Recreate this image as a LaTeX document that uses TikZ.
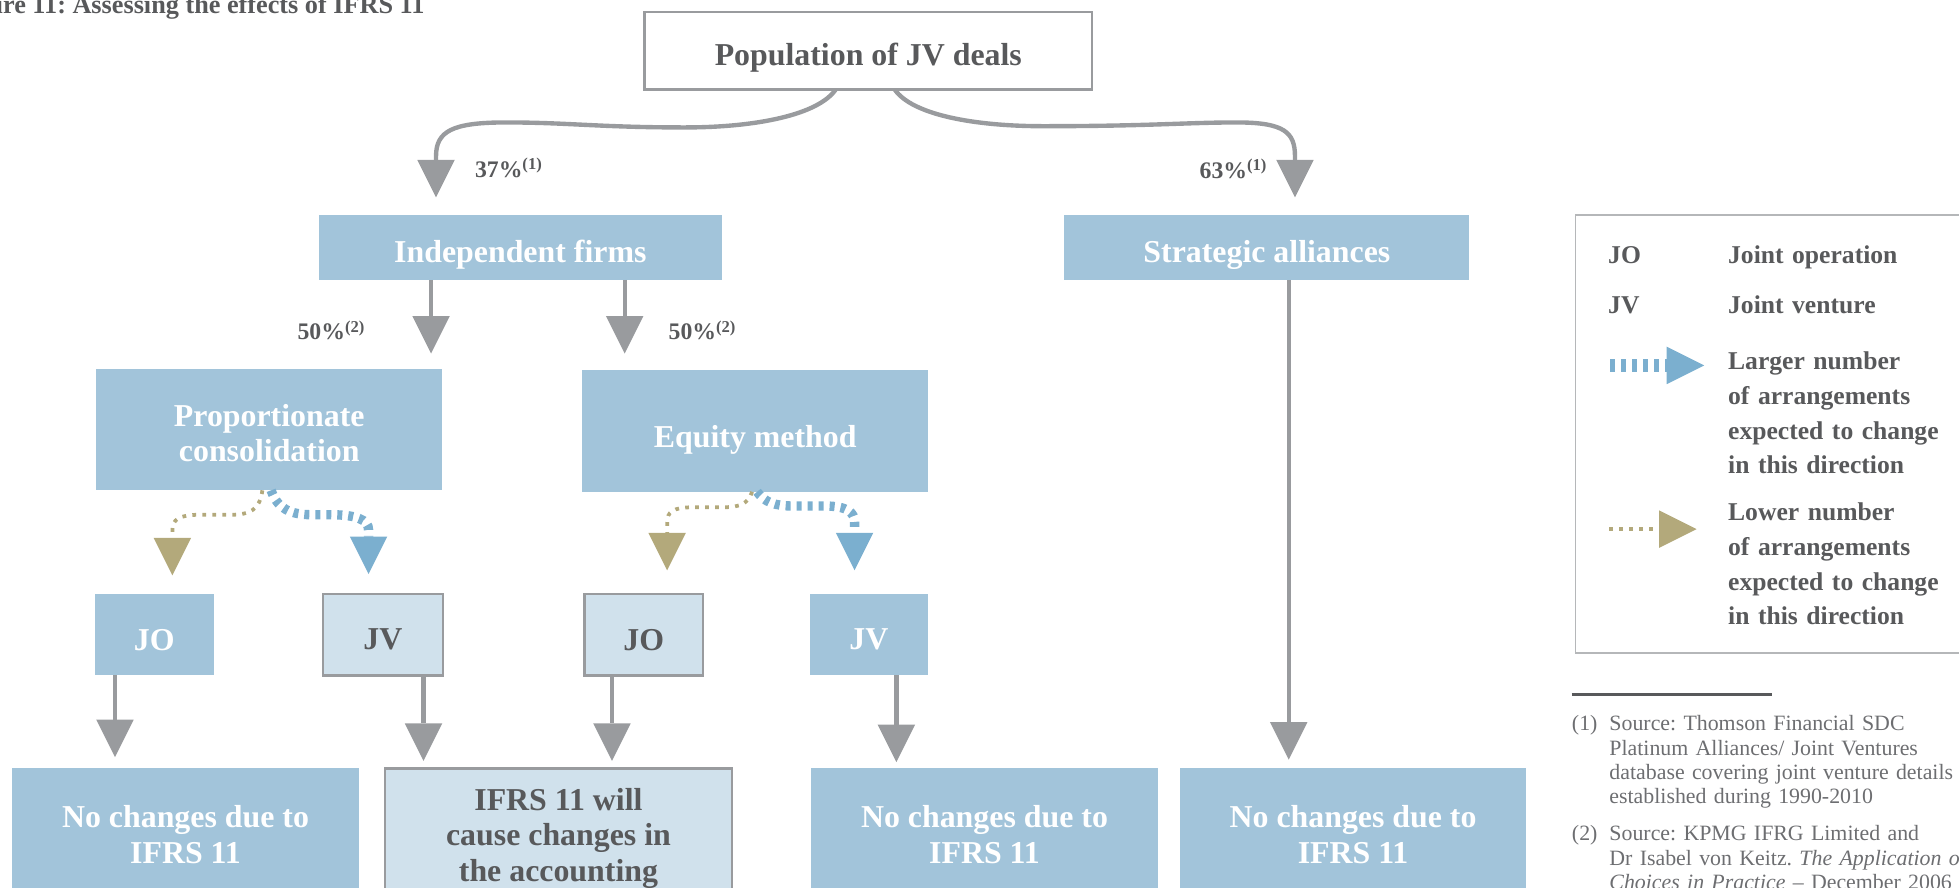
\documentclass[tikz,border=0pt]{standalone}
\usepackage{fontspec}
\setmainfont{Liberation Serif}
\usetikzlibrary{arrows.meta}

\definecolor{kpmgblue}{HTML}{A2C4DA}
\definecolor{paleblue}{HTML}{D0E1EC}
\definecolor{linegray}{HTML}{999B9E}
\definecolor{textgray}{HTML}{58595B}
\definecolor{notegray}{HTML}{6D6E71}
\definecolor{framegray}{HTML}{B5B7B9}
\definecolor{khaki}{HTML}{B3A97B}
\definecolor{arrowblue}{HTML}{7BAFCF}

\newcommand{\boxfont}{\fontsize{25.5}{28.5}\selectfont\bfseries}
\newcommand{\pctfont}{\fontsize{19}{19}\selectfont\bfseries}
\newcommand{\legendfont}{\fontsize{20.5}{27.7}\selectfont\bfseries}
\newcommand{\notefont}{\fontsize{17.5}{19.4}\selectfont\frenchspacing}
\newcommand{\titlefont}{\fontsize{21}{21}\selectfont\bfseries\frenchspacing}

\tikzset{
  boxblue/.style={fill=kpmgblue, inner sep=0pt, outer sep=0pt},
  boxpale/.style={draw=linegray, line width=2pt, fill=paleblue, inner sep=0pt, outer sep=0pt},
  topbox/.style={draw=linegray, line width=2pt, fill=white, inner sep=0pt, outer sep=0pt},
  boxtext/.style={font=\boxfont, align=center, inner sep=0pt},
  grayarrow/.style={draw=linegray, line width=3.5pt, -{Triangle[length=30pt, width=30pt, line width=0pt]}},
  morearrow/.style={draw=arrowblue, line width=7.5pt, dash pattern=on 4pt off 4.8pt, -{Triangle[length=30pt, width=30pt, line width=0pt]}},
  lessarrow/.style={draw=khaki, line width=3pt, dash pattern=on 3pt off 5pt, -{Triangle[length=30pt, width=30pt, line width=0pt]}},
  pctlabel/.style={anchor=base west, font=\pctfont, text=textgray, inner sep=0pt},
  legendtext/.style={anchor=base west, font=\legendfont, text=textgray, inner sep=0pt, text width=200pt, align=left},
  notetext/.style={anchor=base west, font=\notefont, text=notegray, inner sep=0pt, text width=420pt, align=left},
  legendframe/.style={draw=framegray, line width=1.5pt}
}

% name, x, y, width, height, text drop, text
\newcommand{\boxblue}[7]{\node[boxblue, minimum width=#4pt, minimum height=#5pt] (#1) at (#2,#3) {};
    \node[boxtext, text=white] (#1text) at ([yshift=-#6pt]#1.center) {#7};}
\newcommand{\boxpale}[7]{\node[boxpale, minimum width=#4pt, minimum height=#5pt] (#1) at (#2,#3) {};
    \node[boxtext, text=textgray] (#1text) at ([yshift=-#6pt]#1.center) {#7};}

\begin{document}
\begin{tikzpicture}[x=1pt,y=-1pt]
        \useasboundingbox (0,0) rectangle (1568,710);
        \clip (0,0) rectangle (1568,710);

        % title
        \node[anchor=base east, font=\titlefont, text=textgray, inner sep=0pt] (title) at (340,11) {Figure 11: Assessing the effects of IFRS 11};

        % top rows
        \node[topbox, minimum width=358pt, minimum height=62pt] (pop) at (695,40.5) {};
        \node[boxtext, text=textgray] (poptext) at ([yshift=-6pt]pop.center) {Population of JV deals};
        \boxblue{indep}{416.5}{198}{323}{52}{6}{Independent firms}
        \boxblue{strat}{1014}{198}{324}{52}{6}{Strategic alliances}

        % accounting methods
        \boxblue{prop}{215.5}{343.7}{277}{97.5}{3}{Proportionate\\consolidation}
        \boxblue{equity}{604.5}{344.8}{277}{97.6}{7}{Equity method}

        % JO and JV
        \boxblue{joa}{123.5}{508}{95}{65}{4}{JO}
        \boxpale{jva}{306.5}{508}{96}{65}{4}{JV}
        \boxpale{job}{515.3}{508}{95}{65}{4}{JO}
        \boxblue{jvb}{695.5}{508}{95}{65}{4}{JV}

        % outcomes
        \boxblue{noa}{148.5}{666}{277}{102}{2}{No changes due to\\IFRS 11}
        \boxpale{ifrs}{447}{666}{278}{102}{5}{IFRS 11 will\\cause changes in\\the accounting}
        \boxblue{nob}{788}{666}{277}{102}{2}{No changes due to\\IFRS 11}
        \boxblue{noc}{1083}{666}{277}{102}{2}{No changes due to\\IFRS 11}

        % split of the population
        \draw[grayarrow] ([xshift=-26pt]pop.south) .. controls (655,92) and (605,102) .. (548,102)
            .. controls (480,102) and (455,98) .. (405,98) .. controls (362,98) and (349,105) .. (349,125)
            -- ([xshift=-67.5pt,yshift=14pt]indep.north);
        \draw[grayarrow] ([xshift=21pt]pop.south) .. controls (730,92) and (780,101) .. (835,101)
            .. controls (920,101) and (950,98) .. (990,98) .. controls (1028,98) and (1036.5,106) .. (1036.5,125)
            -- ([xshift=22.5pt,yshift=14pt]strat.north);

        % percentages
        \node[pctlabel] (pcta) at (380,142) {37\%\textsuperscript{(1)}};
        \node[pctlabel] (pctb) at (960,143) {63\%\textsuperscript{(1)}};
        \node[pctlabel] (pctc) at (238,272) {50\%\textsuperscript{(2)}};
        \node[pctlabel] (pctd) at (535,272) {50\%\textsuperscript{(2)}};

        % down from independent firms
        \draw[grayarrow] ([xshift=-71.5pt]indep.south) -- ([xshift=-71.5pt,yshift=12pt]indep.south |- prop.north);
        \draw[grayarrow] ([xshift=83.5pt]indep.south) -- ([xshift=83.5pt,yshift=13pt]indep.south |- equity.north);

        % where the arrangements move
        \draw[lessarrow] ([xshift=-5.5pt]prop.south) .. controls (208,408) and (200,412) .. (185,412) -- (160,412)
            .. controls (143,412) and (138,416) .. (138,424) -- ([xshift=14.5pt,yshift=15pt]joa.north);
        \draw[morearrow] ([xshift=1.5pt]prop.south) .. controls (222,407) and (232,412) .. (250,412) -- (265,412)
            .. controls (285,412) and (295,416) .. (295,424) -- ([xshift=-11.5pt,yshift=16pt]jva.north);
        \draw[lessarrow] ([xshift=-2.5pt]equity.south) .. controls (599,403) and (592,406) .. (580,406) -- (555,406)
            .. controls (538,406) and (534,410) .. (534,418) -- ([xshift=18.7pt,yshift=19pt]job.north);
        \draw[morearrow] ([xshift=1.5pt]equity.south) .. controls (612,402) and (620,405) .. (635,405) -- (660,405)
            .. controls (678,405) and (684,410) .. (684,418) -- ([xshift=-11.5pt,yshift=19pt]jvb.north);

        % straight down to outcomes
        \draw[grayarrow] ([xshift=-31.5pt]joa.south) -- ([xshift=-31.5pt,yshift=9pt]joa.south |- noa.north);
        \draw[grayarrow] ([xshift=32.5pt]jva.south) -- ([xshift=32.5pt,yshift=6pt]jva.south |- ifrs.north);
        \draw[grayarrow] ([xshift=-25.5pt]job.south) -- ([xshift=-25.5pt,yshift=6pt]job.south |- ifrs.north);
        \draw[grayarrow] ([xshift=22pt]jvb.south) -- ([xshift=22pt,yshift=5pt]jvb.south |- nob.north);
        \draw[grayarrow] ([xshift=17.5pt]strat.south) -- ([xshift=17.5pt,yshift=7pt]strat.south |- noc.north);

        % legend
        \draw[legendframe] (1261,172) rectangle (1600,523);
        \node[legendtext] (lgjo) at (1287,211) {JO};
        \node[legendtext] (lgjotext) at (1383,211) {Joint operation};
        \node[legendtext] (lgjv) at (1287,251) {JV};
        \node[legendtext] (lgjvtext) at (1383,251) {Joint venture};
        \coordinate (morea) at (1289,292.5);
        \coordinate (moreb) at (1364,292.5);
        \draw[morearrow, line width=10pt] (morea) -- (moreb);
        \node[legendtext] (lgmore) at (1383,296) {Larger number\\of arrangements\\expected to change\\in this direction};
        \coordinate (lessa) at (1288,423.5);
        \coordinate (lessb) at (1358,423.5);
        \draw[lessarrow, line width=3.5pt] (lessa) -- (lessb);
        \node[legendtext] (lgless) at (1383,417) {Lower number\\of arrangements\\expected to change\\in this direction};

        % footnotes
        \draw[textgray, line width=2pt] (1258,556) -- (1418,556);
        \node[notetext, text width=30pt] (fnonenum) at (1258,585) {(1)};
        \node[notetext] (fnone) at (1288,585) {Source: Thomson Financial SDC\\Platinum Alliances/ Joint Ventures\\database covering joint venture details\\established during 1990-2010};
        \node[notetext, text width=30pt] (fntwonum) at (1258,673) {(2)};
        \node[notetext] (fntwo) at (1288,673) {Source: KPMG IFRG Limited and\\Dr Isabel von Keitz. \textit{The Application of IFRS}\\\textit{Choices in Practice} – December 2006};
\end{tikzpicture}
\end{document}
